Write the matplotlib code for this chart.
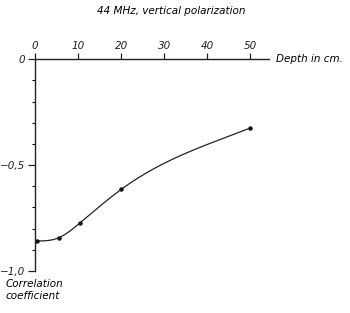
import numpy as np
import matplotlib
matplotlib.use("Agg")
import matplotlib.pyplot as plt

depth = [0.5, 5.5, 10.5, 20, 50]
corr = [-0.858, -0.843, -0.772, -0.615, -0.325]
xticks = [0, 10, 20, 30, 40, 50]
yticks = [0, -0.5, -1.0]
yticklabels = ["0", "\u22120,5", "\u22121,0"]

def clamped_spline(x, y, xs, s0, s1):
    x = np.asarray(x, float); y = np.asarray(y, float)
    n = len(x)
    h = np.diff(x)
    A = np.zeros((n, n)); b = np.zeros(n)
    A[0, 0] = 2 * h[0]; A[0, 1] = h[0]
    b[0] = 3 * ((y[1] - y[0]) / h[0] - s0)
    A[-1, -2] = h[-1]; A[-1, -1] = 2 * h[-1]
    b[-1] = 3 * (s1 - (y[-1] - y[-2]) / h[-1])
    for i in range(1, n - 1):
        A[i, i - 1] = h[i - 1]
        A[i, i] = 2 * (h[i - 1] + h[i])
        A[i, i + 1] = h[i]
        b[i] = 3 * ((y[i + 1] - y[i]) / h[i] - (y[i] - y[i - 1]) / h[i - 1])
    c = np.linalg.solve(A, b)
    out = np.empty_like(xs)
    for k, xv in enumerate(xs):
        i = min(max(np.searchsorted(x, xv) - 1, 0), n - 2)
        dx = xv - x[i]
        bi = (y[i + 1] - y[i]) / h[i] - h[i] * (2 * c[i] + c[i + 1]) / 3
        di = (c[i + 1] - c[i]) / (3 * h[i])
        out[k] = y[i] + bi * dx + c[i] * dx ** 2 + di * dx ** 3
    return out

fig = plt.figure(figsize=(3.5, 3.13), dpi=100)
ax = fig.add_axes([0.1, 0.134, 0.669, 0.677])
fs = dict(family="DejaVu Sans", style="italic")

xs = np.linspace(0.0, depth[-1], 400)
ys = clamped_spline(depth, corr, xs, 0.0, 0.008)
ax.plot(xs, ys, color="#222222", lw=0.9)
ax.plot(depth, corr, "o", color="#111111", ms=2.2)

ax.set_xlim(0, 54.4)
ax.set_ylim(-1.0, 0)
for s in ["right", "bottom"]:
    ax.spines[s].set_visible(False)
for s in ["top", "left"]:
    ax.spines[s].set_linewidth(1.0)
    ax.spines[s].set_color("#222222")
ax.xaxis.tick_top()
ax.set_xticks(xticks)
ax.set_xticklabels([str(v) for v in xticks], fontsize=7.5, **fs)
ax.tick_params(axis="x", direction="out", length=4, width=0.9, pad=2, colors="#222222")
ax.set_yticks(yticks)
ax.set_yticklabels(yticklabels, fontsize=7.5, **fs)
ax.set_yticks(np.arange(-1.0, 0.001, 0.1), minor=True)
ax.tick_params(axis="y", which="major", direction="out", length=5, width=0.9, pad=2, colors="#222222")
ax.tick_params(axis="y", which="minor", direction="out", length=2.5, width=0.8)

fig.text(0.49, 0.965, "44 MHz, vertical polarization", ha="center", va="center", fontsize=7.5, **fs)
fig.text(0.79, 0.81, "Depth in cm.", ha="left", va="center", fontsize=7.5, **fs)
fig.text(0.015, 0.093, "Correlation", ha="left", va="center", fontsize=7.5, **fs)
fig.text(0.015, 0.053, "coefficient", ha="left", va="center", fontsize=7.5, **fs)

fig.savefig("out.png", dpi=100, facecolor="white")
